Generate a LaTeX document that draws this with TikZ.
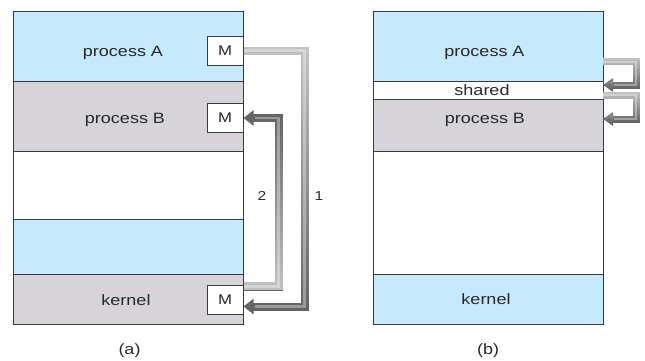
\documentclass[tikz,border=0pt]{standalone}
\usepackage{fontspec}
\setmainfont{Liberation Sans}[FakeStretch=1.2]
\usetikzlibrary{calc,arrows.meta,fadings}

\definecolor{memblue}{RGB}{198,233,251}
\definecolor{memgray}{RGB}{214,212,216}
\definecolor{edge}{RGB}{58,58,62}
\definecolor{ink}{RGB}{40,40,45}
\definecolor{tubelight}{RGB}{195,195,195}
\definecolor{tubedark}{RGB}{100,100,100}

% fadings: opaque at one end, clear at the other
\tikzfading[name=fadedown, top color=transparent!0, bottom color=transparent!100]
\tikzfading[name=fadeup, top color=transparent!100, bottom color=transparent!0]

\begin{document}
\begin{tikzpicture}[x=1pt,y=-1pt,
  seg/.style={draw=edge, line width=1pt, inner sep=0pt, outer sep=0pt,
              minimum width=230pt, minimum height=#1, anchor=north west},
  mbox/.style={draw=edge, fill=white, line width=1pt, minimum width=36pt,
               minimum height=29pt, inner sep=0pt, text=ink,
               font=\fontsize{14}{16}\selectfont},
  txt/.style={anchor=base, inner sep=0pt, text=ink,
              font=\fontsize{15}{18}\selectfont},
  num/.style={anchor=base, inner sep=0pt, text=ink,
              font=\fontsize{13}{15}\selectfont},
  tube/.style={line width=8pt, -{Triangle[length=10pt,width=15pt]}},
  thintube/.style={line width=7pt, -{Triangle[length=10pt,width=13pt]}},
  shine/.style={line width=2.5pt, draw=white, opacity=0.35, shorten >=11pt},
]
\useasboundingbox (0,0) rectangle (645,360);

% ---------------- (a) message passing ----------------
\node[seg=70pt, fill=memblue] (aA) at (13,11) {};
\node[seg=70pt, fill=memgray] (aB) at (13,81) {};
\node[seg=68pt, fill=white]   (aF) at (13,151) {};
\node[seg=55pt, fill=memblue] (aU) at (13,219) {};
\node[seg=50pt, fill=memgray] (aK) at (13,274) {};

\node[txt] (tA) at (123,56)  {process A};
\node[txt] (tB) at (125,123) {process B};
\node[txt] (tK) at (126,305) {kernel};

\node[mbox] (mA) at (225,50.5)  {M};
\node[mbox] (mB) at (225,118)   {M};
\node[mbox] (mK) at (225,299.5) {M};

\coordinate (k1) at ($(mK.east)+(0,7)$);
\coordinate (k2) at ($(mK.east)+(0,-13)$);

% message 1: A -> kernel
\draw[tube, draw=tubedark] (mA.east) -- ++(61,0) |- (k1);
\draw[tube, draw=tubelight, path fading=fadedown]
  (mA.east) -- ++(61,0) |- (k1);
\draw[shine] (mA.east) -- ++(61,0) |- (k1);
% message 2: kernel -> B
\draw[tube, draw=tubedark] (k2) -- ++(35,0) |- (mB.east);
\draw[tube, draw=tubelight, path fading=fadeup]
  (k2) -- ++(35,0) |- (mB.east);
\draw[shine] (k2) -- ++(35,0) |- (mB.east);

\node[num] (n2) at (262,200) {2};
\node[num] (n1) at (319,200) {1};

\node[txt] (capA) at (129.5,354) {(a)};

% ---------------- (b) shared memory ----------------
\node[seg=70pt,  fill=memblue] (bA) at (373,11) {};
\node[seg=18pt,  fill=white]   (bS) at (373,81) {};
\node[seg=52pt,  fill=memgray] (bB) at (373,99) {};
\node[seg=123pt, fill=white]   (bF) at (373,151) {};
\node[seg=50pt,  fill=memblue] (bK) at (373,274) {};

\node[txt] (uA) at (484.5,56) {process A};
\node[txt] (uS) at (482,95)   {shared};
\node[txt] (uB) at (485,123)  {process B};
\node[txt] (uK) at (486,304.5) {kernel};

\coordinate (s1) at ($(bA.east)+(0,15.5)$);
\coordinate (s2) at ($(bS.east)+(0,-5)$);
\coordinate (s3) at ($(bS.east)+(0,5)$);
\coordinate (s4) at ($(bB.east)+(0,-6)$);

\draw[thintube, draw=tubedark] (s1) -- ++(33,0) |- (s2);
\draw[thintube, draw=tubelight, path fading=fadedown]
  (s1) -- ++(33,0) |- (s2);
\draw[shine, line width=2pt] (s1) -- ++(33,0) |- (s2);
\draw[thintube, draw=tubedark] (s3) -- ++(33,0) |- (s4);
\draw[thintube, draw=tubelight, path fading=fadedown]
  (s3) -- ++(33,0) |- (s4);
\draw[shine, line width=2pt] (s3) -- ++(33,0) |- (s4);

\node[txt] (capB) at (488,354) {(b)};
\end{tikzpicture}
\end{document}
